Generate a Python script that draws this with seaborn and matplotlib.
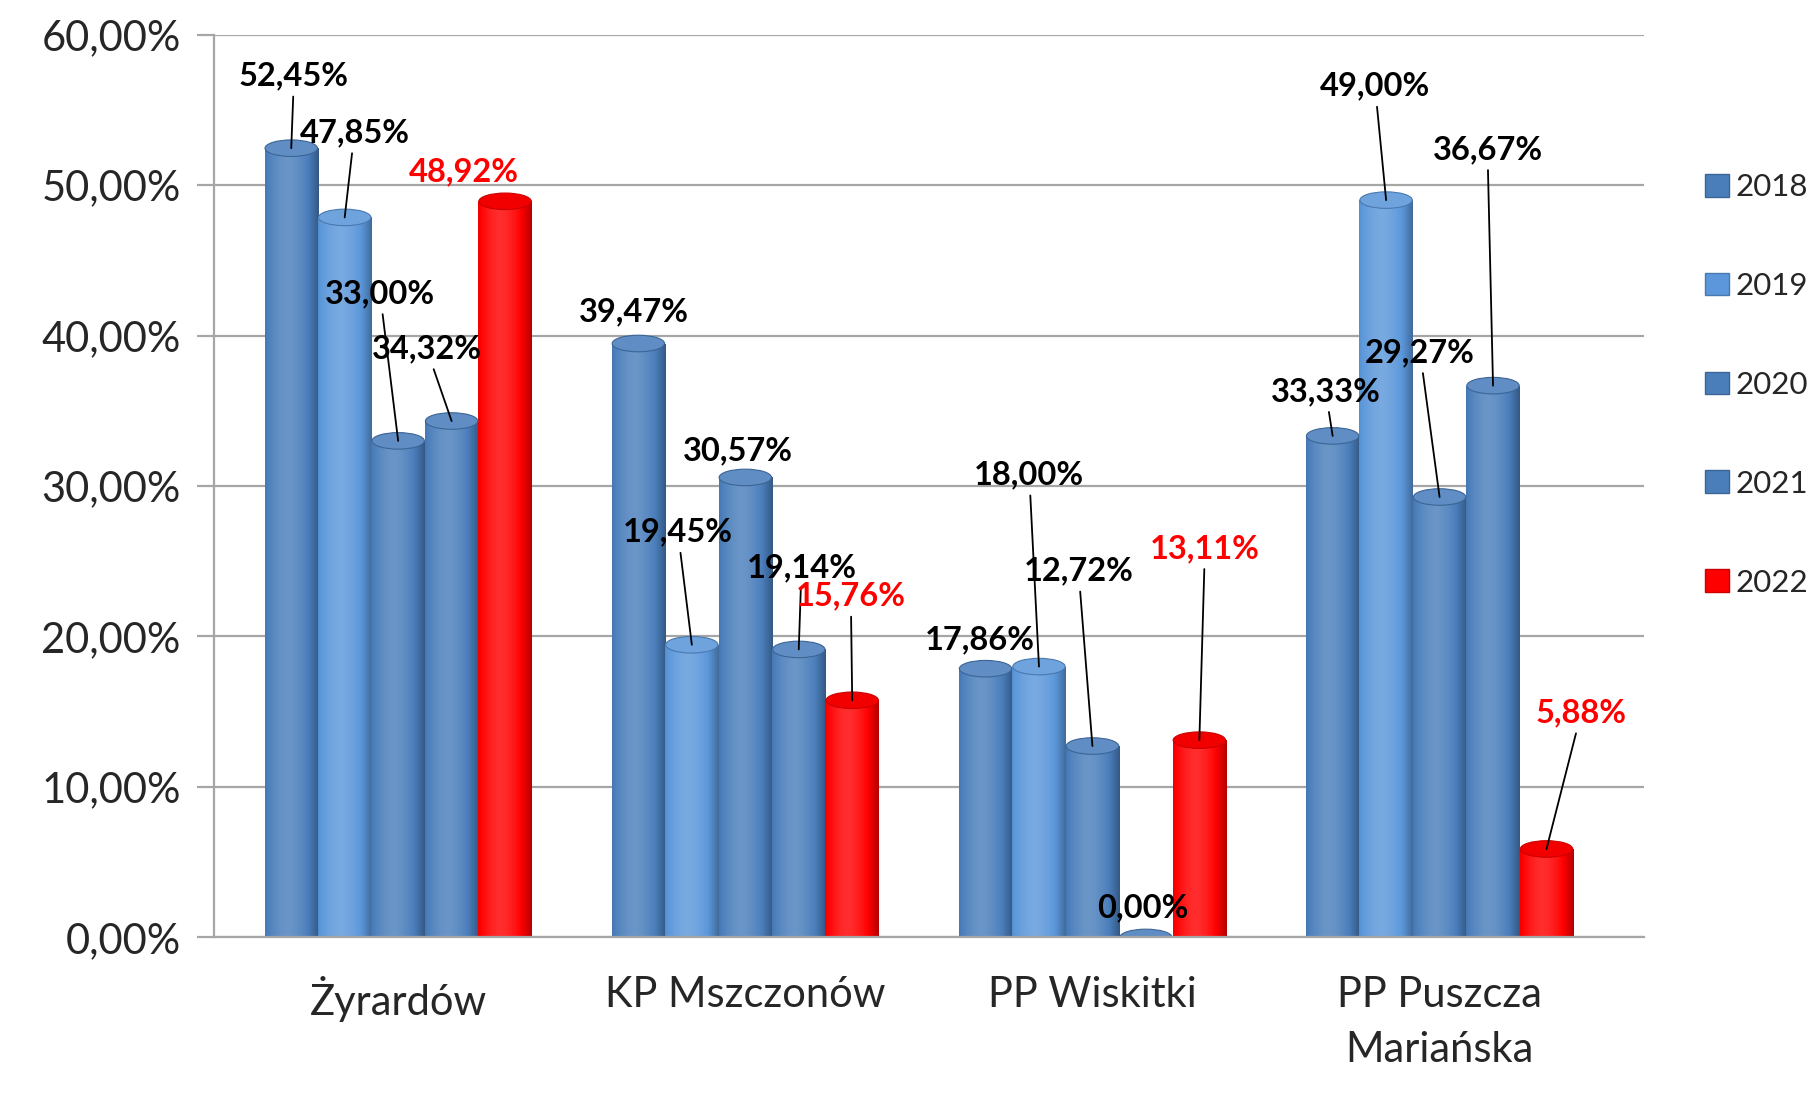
import numpy as np
import pandas as pd
import matplotlib
matplotlib.use("Agg")
import matplotlib.pyplot as plt
import seaborn as sns
from matplotlib.patches import Patch, Ellipse
from matplotlib.colors import to_rgb
from matplotlib.ticker import FuncFormatter

# ---- data -------------------------------------------------------------
units = ["Żyrardów", "KP Mszczonów", "PP Wiskitki", "PP Puszcza\nMariańska"]
years = ["2018", "2019", "2020", "2021", "2022"]

share_2018 = [52.45, 39.47, 17.86, 33.33]
share_2019 = [47.85, 19.45, 18.00, 49.00]
share_2020 = [33.00, 30.57, 12.72, 29.27]
share_2021 = [34.32, 19.14, 0.00, 36.67]
share_2022 = [48.92, 15.76, 13.11, 5.88]

y_ticks = [0, 10, 20, 30, 40, 50, 60]

series = [share_2018, share_2019, share_2020, share_2021, share_2022]
df = pd.DataFrame(
    [(u, y, v) for y, vals in zip(years, series) for u, v in zip(units, vals)],
    columns=["unit", "year", "share"],
)

# ---- styling ----------------------------------------------------------
palette = {"2018": "#4A7EBB", "2019": "#5B97DA", "2020": "#4A7EBB",
           "2021": "#4A7EBB", "2022": "#FF0000"}
label_colors = {"2018": "black", "2019": "black", "2020": "black",
                "2021": "black", "2022": "#FF0000"}

# label offsets (points) from each bar top, per year, per unit
label_offsets = {
    "2018": [(2, 52), (-3, 23), (-4, 21), (-5, 32)],
    "2019": [(7, 61), (-10, 81), (-7, 138), (-8, 82)],
    "2020": [(-13, 106), (-5, 19), (-10, 126), (-14, 104)],
    "2021": [(-18, 52), (2, 59), (-2, 21), (-4, 170)],
    "2022": [(-30, 21), (-1, 75), (4, 138), (25, 98)],
}

sns.set_theme(style="white")
plt.rcParams["font.family"] = ["Lato", "DejaVu Sans"]

fig = plt.figure(figsize=(18.15, 11.16), dpi=100)
ax = fig.add_axes([0.118, 0.16, 0.788, 0.809])

sns.barplot(data=df, x="unit", y="share", hue="year", order=units,
            hue_order=years, palette=palette, width=0.77, gap=0,
            saturation=1, legend=False, ax=ax, linewidth=0)


def shade(rgb, t):
    """Cylinder-like horizontal shading: darker edges, lighter left-centre."""
    rgb = np.array(rgb)
    light = 1.0 - 1.9 * np.abs(t - 0.42) ** 1.6
    out = []
    for l in light:
        if l >= 0.6:
            k = (l - 0.6) / 0.4 * 0.18
            out.append(rgb + (1 - rgb) * k)
        else:
            k = (0.6 - l) / 0.6 * 0.45
            out.append(rgb * (1 - k))
    return np.clip(np.array(out), 0, 1)


t = np.linspace(0, 1, 128)
cap_h = 1.1
for year, cont in zip(years, ax.containers):
    base = to_rgb(palette[year])
    grad = shade(base, t)[None, :, :]
    for bar in cont.patches:
        x0, w, h = bar.get_x(), bar.get_width(), bar.get_height()
        if h > 0:
            im = ax.imshow(grad, extent=[x0, x0 + w, 0, h], aspect="auto",
                           origin="lower", zorder=bar.get_zorder() + 0.1,
                           interpolation="bilinear")
            im.set_clip_path(bar)
        top_col = np.array(base) + (1 - np.array(base)) * 0.12
        top_col = top_col if year != "2022" else np.array(base) * 0.95
        ax.add_patch(Ellipse((x0 + w / 2, h), w * 0.98, cap_h,
                             facecolor=top_col, edgecolor=np.array(base) * 0.8,
                             linewidth=0.8, zorder=bar.get_zorder() + 0.2))

# value labels with leader lines
for year, cont in zip(years, ax.containers):
    for i, bar in enumerate(cont.patches):
        val = series[years.index(year)][i]
        dx, dy = label_offsets[year][i]
        txt = f"{val:.2f}".replace(".", ",") + "%"
        cx = bar.get_x() + bar.get_width() / 2
        arrow = dict(arrowstyle="-", color="black", lw=1.3,
                     shrinkA=2, shrinkB=0) if dy >= 30 else None
        ax.annotate(txt, xy=(cx, val), xytext=(dx, dy),
                    textcoords="offset points", ha="center", va="center",
                    fontsize=23.5, fontweight="bold", color=label_colors[year],
                    arrowprops=arrow, zorder=6)

# axes, grid, ticks
ax.set_ylim(0, 60)
ax.set_xlim(-0.53, 3.59)
ax.set_yticks(y_ticks)
ax.yaxis.set_major_formatter(
    FuncFormatter(lambda v, _: f"{v:.2f}".replace(".", ",") + "%"))
ax.grid(axis="y", color="#A6A6A6", linewidth=1.6, zorder=0)
ax.set_axisbelow(True)
for side in ["top", "right"]:
    ax.spines[side].set_visible(False)
for side in ["left", "bottom"]:
    ax.spines[side].set_color("#A6A6A6")
    ax.spines[side].set_linewidth(1.6)
ax.tick_params(axis="y", length=12, width=1.6, color="#A6A6A6",
               labelsize=30, pad=12, left=True)
ax.tick_params(axis="x", length=0, labelsize=30, pad=28)
for lab in ax.get_xticklabels():
    lab.set_linespacing(1.55)
    lab.set_verticalalignment("top")
ax.set_xlabel("")
ax.set_ylabel("")

# legend
handles = [Patch(facecolor=palette[y], edgecolor=np.array(to_rgb(palette[y])) * 0.8,
                 linewidth=1) for y in years]
fig.legend(handles, years, loc="upper left", bbox_to_anchor=(0.931, 0.859),
           frameon=False, fontsize=22.5, labelspacing=2.27, handlelength=0.75,
           handleheight=0.75, handletextpad=0.22, borderpad=0)

fig.savefig("out.png", dpi=100)
